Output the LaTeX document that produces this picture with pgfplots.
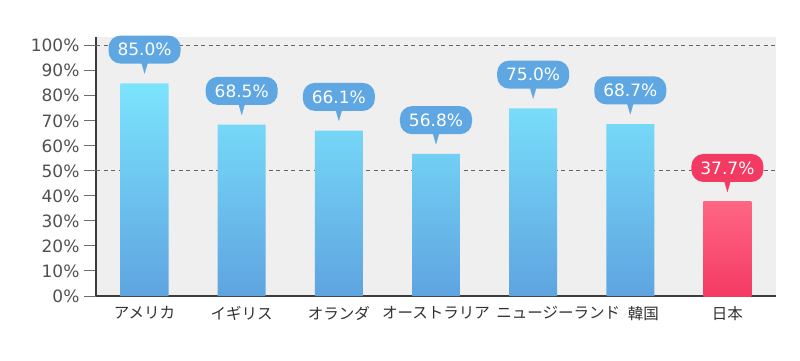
\documentclass[border=0pt]{standalone}
\usepackage{pgfplots}
\pgfplotsset{compat=1.18}
\usepackage{fontspec}
\setmainfont{DejaVu Sans}
\newfontfamily\jp{Noto Sans CJK JP}
\definecolor{bgc}{RGB}{239,239,239}
\definecolor{axisc}{RGB}{60,60,60}
\definecolor{tickc}{RGB}{110,110,110}
\definecolor{gridc}{RGB}{100,100,100}
\definecolor{labc}{RGB}{80,80,80}
\definecolor{xlabc}{RGB}{50,50,50}
\definecolor{btop}{RGB}{124,228,253}
\definecolor{bbot}{RGB}{94,164,224}
\definecolor{bcall}{RGB}{95,167,227}
\definecolor{rtop}{RGB}{255,102,132}
\definecolor{rbot}{RGB}{244,58,100}
\definecolor{rcall}{RGB}{242,58,99}
\begin{document}
\begin{tikzpicture}
\useasboundingbox (0,0) rectangle (800pt,360pt);
\begin{axis}[
  at={(96pt,64pt)}, anchor=south west,
  scale only axis, width=680pt, height=259pt,
  xmin=-0.5, xmax=6.5, ymin=0, ymax=103.5,
  clip=false,
  axis x line*=bottom, axis y line*=left,
  axis line style={draw=axisc, line width=1.5pt, -},
  axis background/.style={fill=bgc},
  /pgf/number format/assume math mode=true,
  ytick={0,10,...,100},
  yticklabel={\pgfmathprintnumber{\tick}\%},
  y tick label style={font=\fontsize{17}{17}\selectfont, color=labc, xshift=-1pt},
  ytick pos=left, tick align=outside,
  major tick length=12pt,
  y tick style={draw=tickc, line width=1pt},
  xtick={0,...,6},
  xticklabels={アメリカ,イギリス,オランダ,オーストラリア,\hspace*{50pt}ニュージーランド,\hspace*{26pt}韓国,日本},
  x tick label style={font=\jp\fontsize{15.5}{15.5}\selectfont, color=xlabc, yshift=5pt},
  x tick style={draw=none},
  extra y ticks={50,100},
  extra y tick style={grid=major, tick label style={opacity=0}},
  grid style={draw=gridc, line width=0.8pt, dash pattern=on 4pt off 3.5pt},
]
\addplot[only marks, mark=triangle*, mark size=7pt,
  mark options={yshift=17pt, rotate=180, xscale=0.5, fill=bcall, draw=bcall, line width=0.3pt}]
  coordinates {(0,85.0) (1,68.5) (2,66.1) (3,56.8) (4,75.0) (5,68.7)};
\addplot[ybar, bar width=0.494, bar shift=0pt, draw=none, top color=btop, bottom color=bbot,
  nodes near coords={\pgfmathprintnumber[fixed,fixed zerofill,precision=1]{\pgfplotspointmeta}\%},
  every node near coord/.style={anchor=south, yshift=19.5pt, fill=bcall, text=white,
    rounded corners=12pt, font=\fontsize{17}{17}\selectfont, inner xsep=9pt, inner ysep=7.75pt,
    text height=12.5pt, text depth=0pt}]
  coordinates {(0,85.0) (1,68.5) (2,66.1) (3,56.8) (4,75.0) (5,68.7)};
\addplot[only marks, mark=triangle*, mark size=7pt,
  mark options={yshift=17pt, rotate=180, xscale=0.5, fill=rcall, draw=rcall, line width=0.3pt}]
  coordinates {(6,37.7)};
\addplot[ybar, bar width=0.494, bar shift=0pt, draw=none, top color=rtop, bottom color=rbot,
  nodes near coords={\pgfmathprintnumber[fixed,fixed zerofill,precision=1]{\pgfplotspointmeta}\%},
  every node near coord/.style={anchor=south, yshift=19.5pt, fill=rcall, text=white,
    rounded corners=12pt, font=\fontsize{17}{17}\selectfont, inner xsep=9pt, inner ysep=7.75pt,
    text height=12.5pt, text depth=0pt}]
  coordinates {(6,37.7)};
\end{axis}
\end{tikzpicture}
\end{document}
